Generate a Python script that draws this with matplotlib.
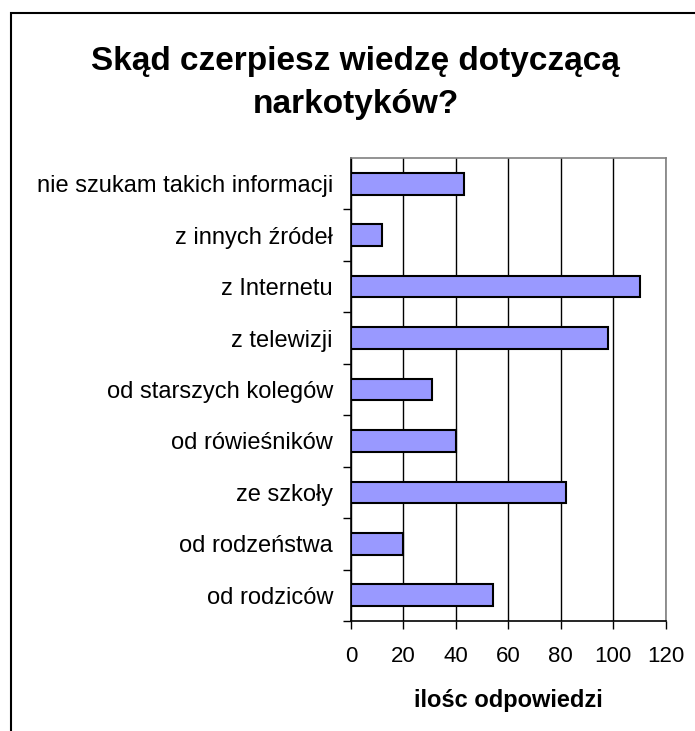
import matplotlib
matplotlib.use("Agg")
import matplotlib.pyplot as plt
from matplotlib.patches import Rectangle

plt.rcParams['font.family'] = ['Liberation Sans', 'DejaVu Sans']

# dane z wykresu (od dołu do góry)
kategorie = ['od rodziców', 'od rodzeństwa', 'ze szkoły', 'od rówieśników',
             'od starszych kolegów', 'z telewizji', 'z Internetu',
             'z innych źródeł', 'nie szukam takich informacji']
odpowiedzi = [54, 20, 82, 40, 31, 98, 110, 12, 43]
x_ticki = [0, 20, 40, 60, 80, 100, 120]

fig = plt.figure(figsize=(6.95, 7.31), dpi=100)
ax = fig.add_axes([0.505, 0.1505, 0.453, 0.6333])

# ramka wokół wykresu
fig.patches.append(Rectangle((11 / 695, -0.1), 1.2, 0.1 + (731 - 13) / 731,
                             transform=fig.transFigure, fill=False,
                             edgecolor='black', linewidth=1.5))

pos = range(len(kategorie))
ax.barh(pos, odpowiedzi, height=0.42, color='#9999FF', edgecolor='black',
        linewidth=1.5, zorder=3)

ax.set_xlim(0, 120)
ax.set_ylim(-0.5, len(kategorie) - 0.5)
ax.set_xticks(x_ticki)
ax.set_xticklabels([str(t) for t in x_ticki], fontsize=16)
ax.set_yticks([p + 0.5 for p in pos][:-1] + [-0.5])
ax.set_yticklabels([])
ax.set_yticks(list(pos), minor=True)
ax.set_yticklabels(kategorie, minor=True, fontsize=17)
ax.tick_params(axis='y', which='minor', length=0, pad=13)
ax.tick_params(axis='y', which='major', length=6, width=1)
ax.tick_params(axis='x', length=6, width=1, pad=12)

ax.grid(axis='x', color='black', linewidth=1, zorder=0)
for s in ['top', 'right']:
    ax.spines[s].set_color('#808080')
    ax.spines[s].set_linewidth(1.2)
for s in ['left', 'bottom']:
    ax.spines[s].set_linewidth(1.2)

ax.set_xlabel('ilośc odpowiedzi', fontsize=17, fontweight='bold', labelpad=16)
fig.text(0.512, 0.886, 'Skąd czerpiesz wiedzę dotyczącą\nnarkotyków?',
         ha='center', va='center', fontsize=24, fontweight='bold',
         linespacing=1.5)

fig.savefig('out.png', dpi=100)
